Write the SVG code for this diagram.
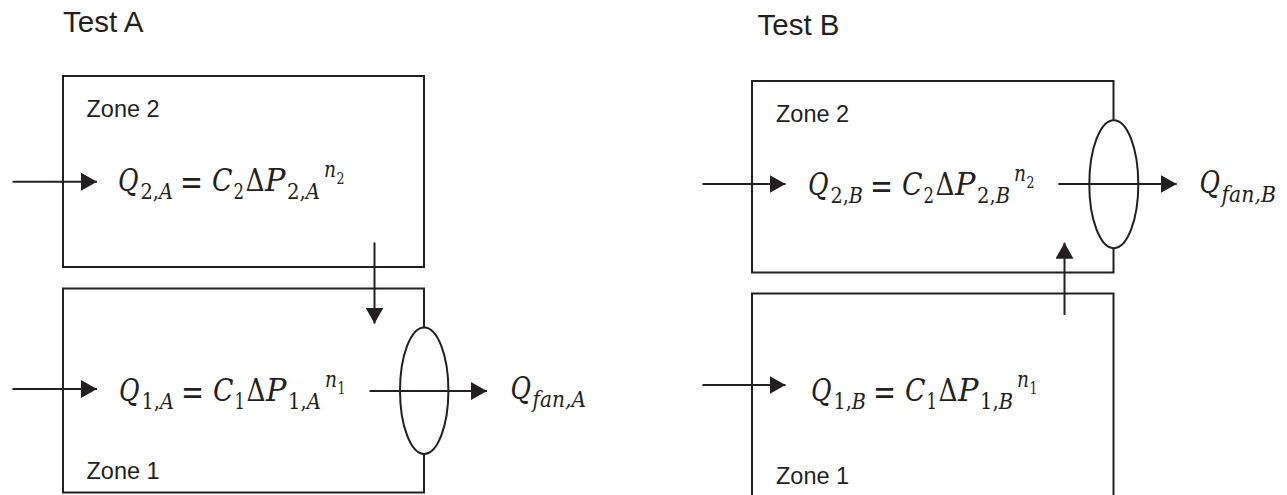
<svg xmlns="http://www.w3.org/2000/svg" width="1287" height="495" viewBox="0 0 1287 495">
<style>
.t{font-family:"Liberation Sans",Arial,sans-serif;fill:#231f20}
.tt{font-size:29.5px}
.zt{font-size:23.5px}
.m{font-family:"DejaVu Serif","Liberation Serif",serif;font-size:31px;fill:#231f20}
.i{font-style:italic}
.s{font-size:22px}
.n{font-size:22px}
.ss{font-size:16px}
.eq{font-family:"DejaVu Serif","Liberation Serif",serif;font-size:36px;fill:#231f20}
.box{fill:none;stroke:#231f20;stroke-width:2}
.fan{fill:#fff;stroke:#231f20;stroke-width:2}
.ln{stroke:#231f20;stroke-width:2;fill:none}
</style>
<defs>
<marker id="ah" markerUnits="userSpaceOnUse" markerWidth="17" markerHeight="18" refX="16" refY="9" orient="auto">
<path d="M0,0 L16,9 L0,18 Z" fill="#231f20"/>
</marker>
</defs>

<text class="t tt" x="63" y="31.5">Test A</text>
<text class="t tt" x="757.5" y="35">Test B</text>

<g id="zoneA2">
<rect class="box" x="63" y="76" width="361" height="191"/>
<text class="t zt" x="86.5" y="117.3">Zone 2</text>
</g>
<g id="zoneA1">
<rect class="box" x="63" y="288.5" width="361" height="204"/>
<text class="t zt" x="86.5" y="479">Zone 1</text>
</g>
<g id="zoneB2">
<rect class="box" x="752" y="81" width="361.5" height="191.5"/>
<text class="t zt" x="776" y="121.7">Zone 2</text>
</g>
<g id="zoneB1">
<rect class="box" x="752" y="293.5" width="361.5" height="230"/>
<text class="t zt" x="776" y="484.3">Zone 1</text>
</g>

<g id="fanA"><ellipse class="fan" cx="424.2" cy="390.7" rx="24.2" ry="63.3"/></g>
<g id="fanB"><ellipse class="fan" cx="1113.8" cy="184.2" rx="24.5" ry="64"/></g>

<g id="connectors">
<line class="ln" x1="12.5" y1="181.7" x2="97" y2="181.7" marker-end="url(#ah)"/>
<line class="ln" x1="12.5" y1="389" x2="97" y2="389" marker-end="url(#ah)"/>
<line class="ln" x1="374.5" y1="242.5" x2="374.5" y2="323.5" marker-end="url(#ah)"/>
<line class="ln" x1="369.5" y1="391" x2="487" y2="391" marker-end="url(#ah)"/>
<line class="ln" x1="702.5" y1="184" x2="785.5" y2="184" marker-end="url(#ah)"/>
<line class="ln" x1="702.5" y1="385" x2="785.5" y2="385" marker-end="url(#ah)"/>
<line class="ln" x1="1058.3" y1="184" x2="1176.7" y2="184" marker-end="url(#ah)"/>
<line class="ln" x1="1064.5" y1="315" x2="1064.5" y2="242.7" marker-end="url(#ah)"/>
</g>

<g id="eqA2" transform="translate(118,191)">
<text class="m i" x="0" y="0" textLength="20.5" lengthAdjust="spacingAndGlyphs">Q</text>
<text class="m s" x="22.5" y="8" textLength="32.5" lengthAdjust="spacingAndGlyphs">2,<tspan class="i">A</tspan></text>
<text class="eq" x="62" y="3" textLength="23" lengthAdjust="spacingAndGlyphs">=</text>
<text class="m i" x="94" y="0" textLength="20.5" lengthAdjust="spacingAndGlyphs">C</text>
<text class="m s" x="115.5" y="8" textLength="10.5" lengthAdjust="spacingAndGlyphs">2</text>
<text class="m" x="127.5" y="0" textLength="19" lengthAdjust="spacingAndGlyphs">Δ</text>
<text class="m i" x="147" y="0" textLength="20.5" lengthAdjust="spacingAndGlyphs">P</text>
<text class="m s" x="169" y="8" textLength="33" lengthAdjust="spacingAndGlyphs">2,<tspan class="i">A</tspan></text>
<text class="m n i" x="206" y="-14" textLength="12" lengthAdjust="spacingAndGlyphs">n</text>
<text class="m ss" x="218.5" y="-7" textLength="8" lengthAdjust="spacingAndGlyphs">2</text>
</g>
<g id="eqA1" transform="translate(119,400.5)">
<text class="m i" x="0" y="0" textLength="20.5" lengthAdjust="spacingAndGlyphs">Q</text>
<text class="m s" x="22.5" y="8" textLength="32.5" lengthAdjust="spacingAndGlyphs">1,<tspan class="i">A</tspan></text>
<text class="eq" x="62" y="3" textLength="23" lengthAdjust="spacingAndGlyphs">=</text>
<text class="m i" x="94" y="0" textLength="20.5" lengthAdjust="spacingAndGlyphs">C</text>
<text class="m s" x="115.5" y="8" textLength="10.5" lengthAdjust="spacingAndGlyphs">1</text>
<text class="m" x="127.5" y="0" textLength="19" lengthAdjust="spacingAndGlyphs">Δ</text>
<text class="m i" x="147" y="0" textLength="20.5" lengthAdjust="spacingAndGlyphs">P</text>
<text class="m s" x="169" y="8" textLength="33" lengthAdjust="spacingAndGlyphs">1,<tspan class="i">A</tspan></text>
<text class="m n i" x="206" y="-14" textLength="12" lengthAdjust="spacingAndGlyphs">n</text>
<text class="m ss" x="218.5" y="-7" textLength="8" lengthAdjust="spacingAndGlyphs">1</text>
</g>
<g id="eqB2" transform="translate(808,195)">
<text class="m i" x="0" y="0" textLength="20.5" lengthAdjust="spacingAndGlyphs">Q</text>
<text class="m s" x="22.5" y="8" textLength="32.5" lengthAdjust="spacingAndGlyphs">2,<tspan class="i">B</tspan></text>
<text class="eq" x="62" y="3" textLength="23" lengthAdjust="spacingAndGlyphs">=</text>
<text class="m i" x="94" y="0" textLength="20.5" lengthAdjust="spacingAndGlyphs">C</text>
<text class="m s" x="115.5" y="8" textLength="10.5" lengthAdjust="spacingAndGlyphs">2</text>
<text class="m" x="127.5" y="0" textLength="19" lengthAdjust="spacingAndGlyphs">Δ</text>
<text class="m i" x="147" y="0" textLength="20.5" lengthAdjust="spacingAndGlyphs">P</text>
<text class="m s" x="169" y="8" textLength="33" lengthAdjust="spacingAndGlyphs">2,<tspan class="i">B</tspan></text>
<text class="m n i" x="206" y="-14" textLength="12" lengthAdjust="spacingAndGlyphs">n</text>
<text class="m ss" x="218.5" y="-7" textLength="8" lengthAdjust="spacingAndGlyphs">2</text>
</g>
<g id="eqB1" transform="translate(811,401)">
<text class="m i" x="0" y="0" textLength="20.5" lengthAdjust="spacingAndGlyphs">Q</text>
<text class="m s" x="22.5" y="8" textLength="32.5" lengthAdjust="spacingAndGlyphs">1,<tspan class="i">B</tspan></text>
<text class="eq" x="62" y="3" textLength="23" lengthAdjust="spacingAndGlyphs">=</text>
<text class="m i" x="94" y="0" textLength="20.5" lengthAdjust="spacingAndGlyphs">C</text>
<text class="m s" x="115.5" y="8" textLength="10.5" lengthAdjust="spacingAndGlyphs">1</text>
<text class="m" x="127.5" y="0" textLength="19" lengthAdjust="spacingAndGlyphs">Δ</text>
<text class="m i" x="147" y="0" textLength="20.5" lengthAdjust="spacingAndGlyphs">P</text>
<text class="m s" x="169" y="8" textLength="33" lengthAdjust="spacingAndGlyphs">1,<tspan class="i">B</tspan></text>
<text class="m n i" x="206" y="-14" textLength="12" lengthAdjust="spacingAndGlyphs">n</text>
<text class="m ss" x="218.5" y="-7" textLength="8" lengthAdjust="spacingAndGlyphs">1</text>
</g>

<g id="qfanA">
<text class="m i" x="510.5" y="399" textLength="20.5" lengthAdjust="spacingAndGlyphs">Q</text>
<text class="m s i" x="532.5" y="406.5" textLength="53.5" lengthAdjust="spacingAndGlyphs">fan,A</text>
</g>
<g id="qfanB">
<text class="m i" x="1199.5" y="193" textLength="20.5" lengthAdjust="spacingAndGlyphs">Q</text>
<text class="m s i" x="1221.5" y="201.5" textLength="54.5" lengthAdjust="spacingAndGlyphs">fan,B</text>
</g>
</svg>
